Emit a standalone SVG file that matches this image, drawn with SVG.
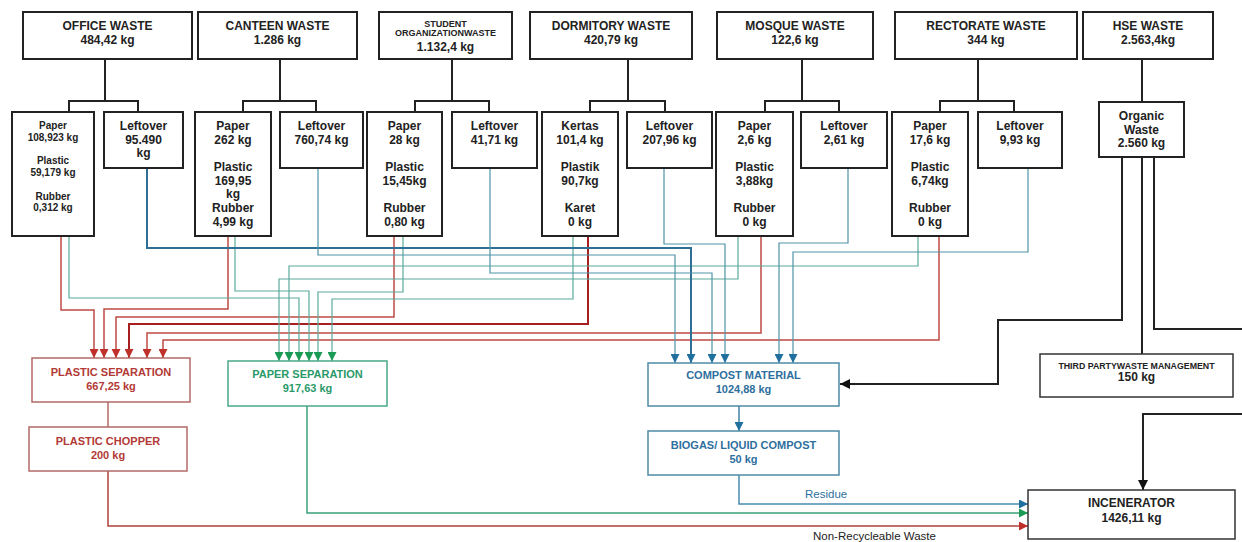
<svg xmlns="http://www.w3.org/2000/svg" width="1242" height="542" viewBox="0 0 1242 542">
<defs>
<style>
text{font-family:"Liberation Sans",Arial,sans-serif;font-weight:bold;text-anchor:middle;fill:#222}
.t12{font-size:12px}
.t10{font-size:10px}
.t9{font-size:9px}
.t11{font-size:11px}
.box{fill:#fff;stroke:#222;stroke-width:2}
.k{fill:none;stroke:#222;stroke-width:2}
.r{fill:none;stroke:#bf4a44;stroke-width:1.5}
.rd{fill:none;stroke:#a81f1f;stroke-width:2}
.g{fill:none;stroke:#5aaa9c;stroke-width:1.2}
.b{fill:none;stroke:#4f93a8;stroke-width:1.2}
.bb{fill:none;stroke:#2f6f95;stroke-width:2}
.rbox{fill:#fff;stroke:#b06a66;stroke-width:1.5}
.gbox{fill:#fff;stroke:#4aa88a;stroke-width:1.5}
.bbox{fill:#fff;stroke:#4d8aa5;stroke-width:1.5}
.rt{fill:#b23a36}
.gt{fill:#2a9a6a}
.bt{fill:#2e6f9e}
.lbl{font-weight:normal;text-anchor:start;font-size:11.5px}
</style>
<marker id="aR" viewBox="0 0 10 10" refX="10" refY="5" markerWidth="9" markerHeight="9" markerUnits="userSpaceOnUse" orient="auto"><path d="M0,0 L10,5 L0,10 z" fill="#c0302a"/></marker>
<marker id="aG" viewBox="0 0 10 10" refX="10" refY="5" markerWidth="9" markerHeight="9" markerUnits="userSpaceOnUse" orient="auto"><path d="M0,0 L10,5 L0,10 z" fill="#1a9a55"/></marker>
<marker id="aB" viewBox="0 0 10 10" refX="10" refY="5" markerWidth="9" markerHeight="9" markerUnits="userSpaceOnUse" orient="auto"><path d="M0,0 L10,5 L0,10 z" fill="#1f6f9f"/></marker>
<marker id="aK" viewBox="0 0 10 10" refX="10" refY="5" markerWidth="10" markerHeight="10" markerUnits="userSpaceOnUse" orient="auto"><path d="M0,0 L10,5 L0,10 z" fill="#111"/></marker>
</defs>
<rect width="1242" height="542" fill="#fff"/>

<g id="connectors">
<!-- tree brackets -->
<path class="k" d="M105 59 V101 M69 112 V101 H138 V112"/>
<path class="k" d="M280 59 V101 M243 112 V101 H316 V112"/>
<path class="k" d="M452 59 V101 M415 112 V101 H489 V112"/>
<path class="k" d="M628 59 V101 M590 112 V101 H665 V112"/>
<path class="k" d="M802 59 V101 M765 112 V101 H839 V112"/>
<path class="k" d="M978 59 V101 M940 112 V101 H1014 V112"/>
<path class="k" d="M1142 59 V102"/>
<!-- plastic (red) -->
<path class="r" d="M61 236 V310 H94 V358" marker-end="url(#aR)"/>
<path class="r" d="M228 236 V309 H104 V358" marker-end="url(#aR)"/>
<path class="r" d="M394 236 V317 H116 V358" marker-end="url(#aR)"/>
<path class="rd" d="M588 236 V324 H129 V358" marker-end="url(#aR)"/>
<path class="r" d="M761 236 V333 H147 V358" marker-end="url(#aR)"/>
<path class="r" d="M939 236 V340 H163 V358" marker-end="url(#aR)"/>
<!-- paper (green) -->
<path class="g" d="M69 236 V298 H299 V361" marker-end="url(#aG)"/>
<path class="g" d="M235 236 V291 H309 V361" marker-end="url(#aG)"/>
<path class="g" d="M403 236 V292 H318 V361" marker-end="url(#aG)"/>
<path class="g" d="M573 236 V299 H332 V361" marker-end="url(#aG)"/>
<path class="g" d="M738 236 V279 H279 V361" marker-end="url(#aG)"/>
<path class="g" d="M918 236 V266 H289 V361" marker-end="url(#aG)"/>
<!-- compost (blue) -->
<path class="bb" d="M147 168 V248 H691 V363" marker-end="url(#aB)"/>
<path class="b" d="M318 168 V255 H675 V363" marker-end="url(#aB)"/>
<path class="b" d="M490 168 V273 H712 V363" marker-end="url(#aB)"/>
<path class="b" d="M664 168 V244 H725 V363" marker-end="url(#aB)"/>
<path class="b" d="M848 168 V243 H779 V363" marker-end="url(#aB)"/>
<path class="b" d="M1028 168 V252 H793 V363" marker-end="url(#aB)"/>
<!-- HSE -->
<path class="k" d="M1122 157 V320 H998 V384 H840" marker-end="url(#aK)"/>
<path class="k" d="M1142 157 V354"/>
<path class="k" d="M1154 157 V329 H1242"/>
<path class="k" d="M1242 414 H1143 V490" marker-end="url(#aK)"/>
<!-- lower flows -->
<path fill="none" stroke="#b06a66" stroke-width="1.5" d="M108 402 V427"/>
<path fill="none" stroke="#b0403a" stroke-width="1.5" d="M108 471 V526 H1028" marker-end="url(#aR)"/>
<path fill="none" stroke="#3aa07a" stroke-width="1.5" d="M307 406 V513 H1028" marker-end="url(#aG)"/>
<path fill="none" stroke="#3f7fa5" stroke-width="1.5" d="M739 406 V431" marker-end="url(#aB)"/>
<path fill="none" stroke="#4a8ab0" stroke-width="1.5" d="M739 475 V504 H1028" marker-end="url(#aB)"/>
<text class="lbl bt" x="805" y="498">Residue</text>
<text class="lbl" x="813" y="540">Non-Recycleable Waste</text>
</g>

<!-- top nodes -->
<g id="office-waste"><rect class="box" x="23" y="12" width="169" height="47"/><text class="t12" x="107.5" y="30">OFFICE WASTE</text><text class="t12" x="107.5" y="44">484,42 kg</text></g>
<g id="canteen-waste"><rect class="box" x="198" y="12" width="159" height="47"/><text class="t12" x="277.5" y="30">CANTEEN WASTE</text><text class="t12" x="277.5" y="44">1.286 kg</text></g>
<g id="student-waste"><rect class="box" x="379" y="12" width="133" height="47"/><text class="t9" x="445.5" y="27">STUDENT</text><text class="t9" x="445.5" y="36">ORGANIZATIONWASTE</text><text class="t12" x="445.5" y="51">1.132,4 kg</text></g>
<g id="dormitory-waste"><rect class="box" x="530" y="12" width="162" height="47"/><text class="t12" x="611" y="30">DORMITORY WASTE</text><text class="t12" x="611" y="44">420,79 kg</text></g>
<g id="mosque-waste"><rect class="box" x="717" y="12" width="156" height="47"/><text class="t12" x="795" y="30">MOSQUE WASTE</text><text class="t12" x="795" y="44">122,6 kg</text></g>
<g id="rectorate-waste"><rect class="box" x="895" y="12" width="182" height="47"/><text class="t12" x="986" y="30">RECTORATE WASTE</text><text class="t12" x="986" y="44">344 kg</text></g>
<g id="hse-waste"><rect class="box" x="1083" y="12" width="130" height="47"/><text class="t12" x="1148" y="30">HSE WASTE</text><text class="t12" x="1148" y="44">2.563,4kg</text></g>

<!-- sub nodes -->
<g id="office-paper"><rect class="box" x="12" y="112" width="82" height="124"/>
<text class="t10" x="53" y="128.5">Paper</text><text class="t10" x="53" y="140.5">108,923 kg</text>
<text class="t10" x="53" y="163.5">Plastic</text><text class="t10" x="53" y="175.5">59,179 kg</text>
<text class="t10" x="53" y="199.5">Rubber</text><text class="t10" x="53" y="210.5">0,312 kg</text></g>
<g id="office-leftover"><rect class="box" x="104" y="112" width="79" height="56"/>
<text class="t12" x="143.5" y="130">Leftover</text><text class="t12" x="143.5" y="144">95.490</text><text class="t12" x="143.5" y="157">kg</text></g>

<g id="canteen-paper"><rect class="box" x="195" y="112" width="76" height="124"/>
<text class="t12" x="233" y="130">Paper</text><text class="t12" x="233" y="144">262 kg</text>
<text class="t12" x="233" y="171">Plastic</text><text class="t12" x="233" y="185">169,95</text><text class="t12" x="233" y="198">kg</text>
<text class="t12" x="233" y="212">Rubber</text><text class="t12" x="233" y="226">4,99 kg</text></g>
<g id="canteen-leftover"><rect class="box" x="280" y="112" width="83" height="56"/>
<text class="t12" x="321.5" y="130">Leftover</text><text class="t12" x="321.5" y="144">760,74 kg</text></g>

<g id="student-paper"><rect class="box" x="367" y="112" width="75" height="124"/>
<text class="t12" x="404.5" y="130">Paper</text><text class="t12" x="404.5" y="144">28 kg</text>
<text class="t12" x="404.5" y="171">Plastic</text><text class="t12" x="404.5" y="185">15,45kg</text>
<text class="t12" x="404.5" y="212">Rubber</text><text class="t12" x="404.5" y="226">0,80 kg</text></g>
<g id="student-leftover"><rect class="box" x="452" y="112" width="85" height="56"/>
<text class="t12" x="494.5" y="130">Leftover</text><text class="t12" x="494.5" y="144">41,71 kg</text></g>

<g id="dormitory-kertas"><rect class="box" x="542" y="112" width="76" height="124"/>
<text class="t12" x="580" y="130">Kertas</text><text class="t12" x="580" y="144">101,4 kg</text>
<text class="t12" x="580" y="171">Plastik</text><text class="t12" x="580" y="185">90,7kg</text>
<text class="t12" x="580" y="212">Karet</text><text class="t12" x="580" y="226">0 kg</text></g>
<g id="dormitory-leftover"><rect class="box" x="627" y="112" width="85" height="56"/>
<text class="t12" x="669.5" y="130">Leftover</text><text class="t12" x="669.5" y="144">207,96 kg</text></g>

<g id="mosque-paper"><rect class="box" x="716" y="112" width="77" height="124"/>
<text class="t12" x="754.5" y="130">Paper</text><text class="t12" x="754.5" y="144">2,6 kg</text>
<text class="t12" x="754.5" y="171">Plastic</text><text class="t12" x="754.5" y="185">3,88kg</text>
<text class="t12" x="754.5" y="212">Rubber</text><text class="t12" x="754.5" y="226">0 kg</text></g>
<g id="mosque-leftover"><rect class="box" x="801" y="112" width="86" height="56"/>
<text class="t12" x="844" y="130">Leftover</text><text class="t12" x="844" y="144">2,61 kg</text></g>

<g id="rectorate-paper"><rect class="box" x="892" y="112" width="76" height="124"/>
<text class="t12" x="930" y="130">Paper</text><text class="t12" x="930" y="144">17,6 kg</text>
<text class="t12" x="930" y="171">Plastic</text><text class="t12" x="930" y="185">6,74kg</text>
<text class="t12" x="930" y="212">Rubber</text><text class="t12" x="930" y="226">0 kg</text></g>
<g id="rectorate-leftover"><rect class="box" x="978" y="112" width="84" height="56"/>
<text class="t12" x="1020" y="130">Leftover</text><text class="t12" x="1020" y="144">9,93 kg</text></g>

<g id="organic-waste"><rect class="box" x="1099" y="102" width="85" height="55"/>
<text class="t12" x="1141.5" y="119.5">Organic</text><text class="t12" x="1141.5" y="133.5">Waste</text><text class="t12" x="1141.5" y="146.5">2.560 kg</text></g>

<!-- processing nodes -->
<g id="plastic-separation"><rect class="rbox" x="32" y="358" width="158" height="44"/>
<text class="t11 rt" x="111" y="376">PLASTIC SEPARATION</text><text class="t11 rt" x="111" y="390">667,25 kg</text></g>
<g id="plastic-chopper"><rect class="rbox" x="29" y="427" width="158" height="44"/>
<text class="t11 rt" x="108" y="445">PLASTIC CHOPPER</text><text class="t11 rt" x="108" y="459">200 kg</text></g>
<g id="paper-separation"><rect class="gbox" x="228" y="361" width="159" height="45"/>
<text class="t11 gt" x="307.5" y="378">PAPER SEPARATION</text><text class="t11 gt" x="307.5" y="392">917,63 kg</text></g>
<g id="compost-material"><rect class="bbox" x="648" y="363" width="191" height="43"/>
<text class="t11 bt" x="743.5" y="379">COMPOST MATERIAL</text><text class="t11 bt" x="743.5" y="393">1024,88 kg</text></g>
<g id="biogas"><rect class="bbox" x="648" y="431" width="191" height="44"/>
<text class="t11 bt" x="743.5" y="449">BIOGAS/ LIQUID COMPOST</text><text class="t11 bt" x="743.5" y="463">50 kg</text></g>
<g id="third-party"><rect fill="#fff" stroke="#333" stroke-width="1.5" x="1040" y="354" width="193" height="43"/>
<text style="font-size:8.8px" x="1136.5" y="369">THIRD PARTYWASTE MANAGEMENT</text><text class="t12" x="1136.5" y="381">150 kg</text></g>
<g id="incenerator"><rect fill="#fff" stroke="#333" stroke-width="1.5" x="1028" y="490" width="207" height="49"/>
<text class="t12" x="1131.5" y="507">INCENERATOR</text><text class="t12" x="1131.5" y="522">1426,11 kg</text></g>
</svg>
